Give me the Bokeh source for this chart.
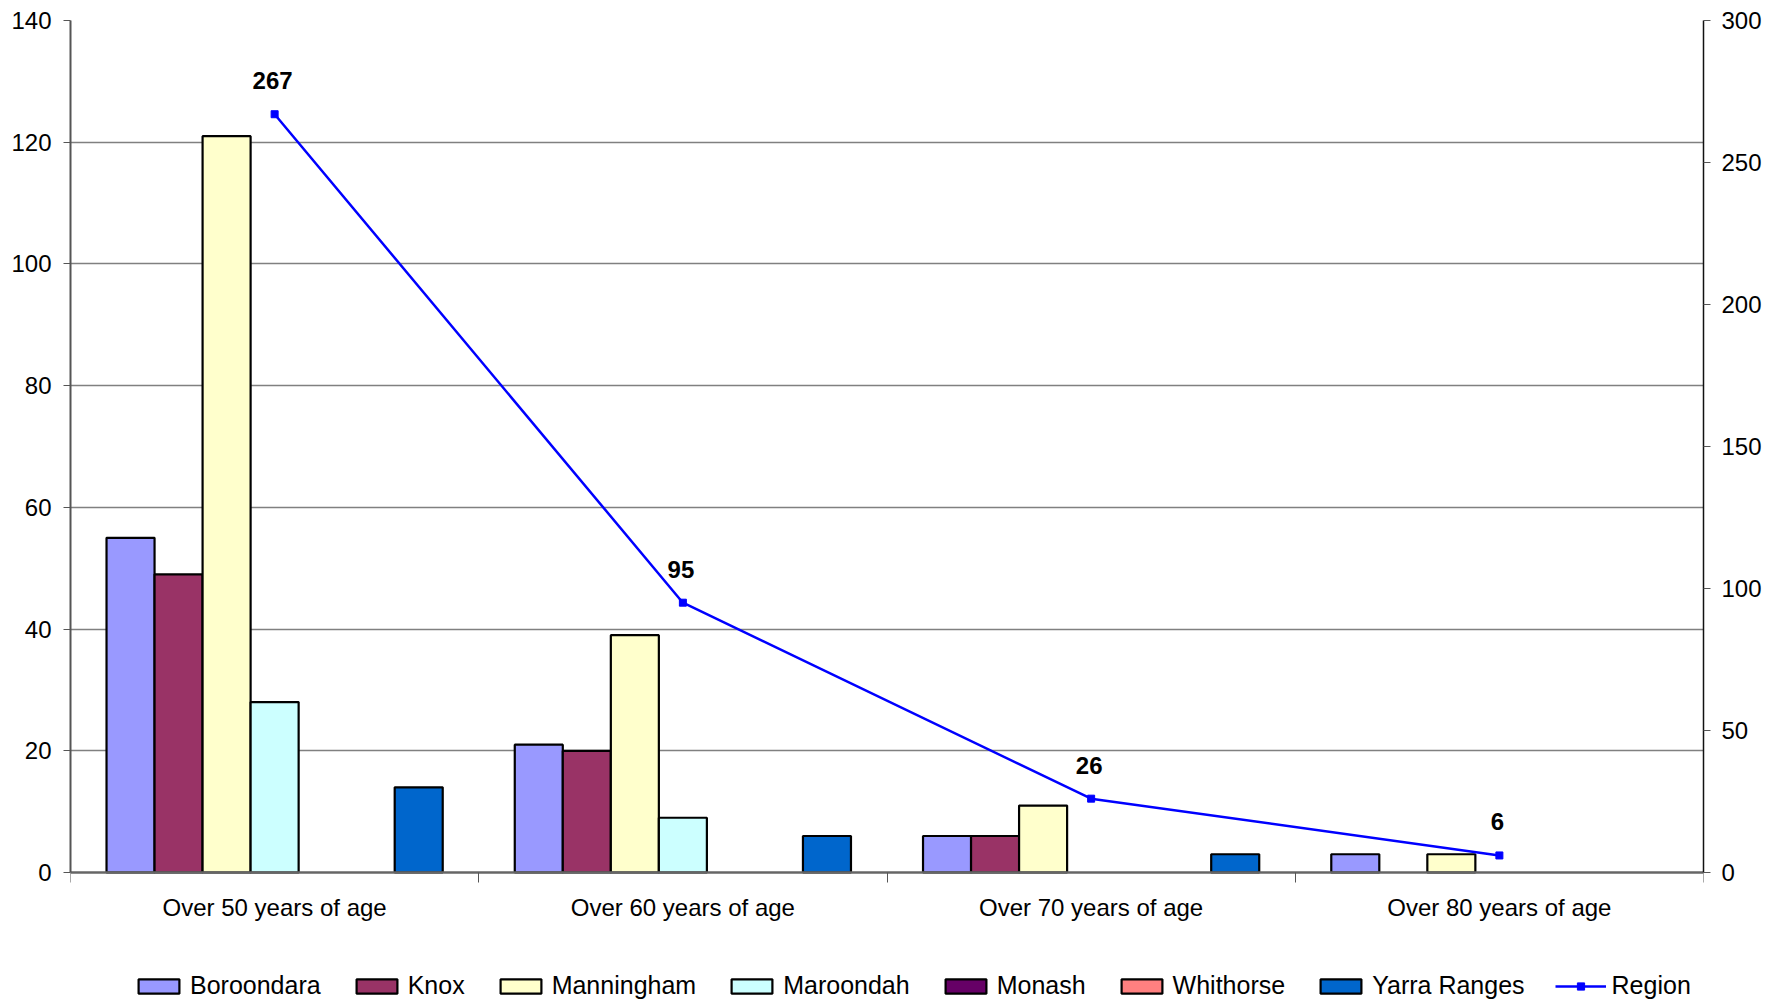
from bokeh.plotting import figure
from bokeh.models import (ColumnDataSource, Range1d, LinearAxis, FixedTicker,
                          Legend, LegendItem, Grid, CDSView, BooleanFilter)
from bokeh.core.properties import value
from bokeh.embed import file_html
from bokeh.resources import INLINE

categories = ["Over 50 years of age", "Over 60 years of age",
              "Over 70 years of age", "Over 80 years of age"]
series_names = ["Boroondara", "Knox", "Manningham", "Maroondah",
                "Monash", "Whithorse", "Yarra Ranges"]
boroondara = [55, 21, 6, 3]
knox = [49, 20, 6, 0]
manningham = [121, 39, 11, 3]
maroondah = [28, 9, 0, 0]
monash = [0, 0, 0, 0]
whithorse = [0, 0, 0, 0]
yarra_ranges = [14, 6, 3, 0]
region = [267, 95, 26, 6]
left_ticks = [0, 20, 40, 60, 80, 100, 120, 140]
right_ticks = [0, 50, 100, 150, 200, 250, 300]

series_values = [boroondara, knox, manningham, maroondah, monash, whithorse, yarra_ranges]
colors = ["#9999FF", "#993366", "#FFFFCC", "#CCFFFF", "#660066", "#FF8080", "#0066CC"]

FONT = "Liberation Sans"

# layout in pixels
TOP, PLOT_H, BELOW = 20, 852, 128
LMAX, RMAX = left_ticks[-1], right_ticks[-1]
lmin = -BELOW * LMAX / PLOT_H
rmin = -BELOW * RMAX / PLOT_H

n = len(categories)
p = figure(width=1780, height=TOP + PLOT_H + BELOW, output_backend="svg", toolbar_location=None,
           x_range=Range1d(0, n), y_range=Range1d(lmin, LMAX), x_axis_type=None,
           y_axis_type=None, min_border_left=70, min_border_right=77,
           min_border_top=TOP, min_border_bottom=0)
p.outline_line_color = None
p.background_fill_color = "white"
p.extra_y_ranges = {"right": Range1d(rmin, RMAX)}
p.xgrid.visible = False

nb = len(series_names)
bw = 1.0 / (nb + 1.5)
centers = [i + 0.5 for i in range(n)]

g = Grid(dimension=1, ticker=FixedTicker(ticks=left_ticks[1:]))
g.grid_line_color = "#808080"
g.grid_line_width = 1.5
p.add_layout(g)

legend_items = []
for k, (name, vals, col) in enumerate(zip(series_names, series_values, colors)):
    off = (k - (nb - 1) / 2) * bw
    src = ColumnDataSource(dict(x=[c + off for c in centers], top=vals))
    has_bars = any(v > 0 for v in vals)
    kw = {}
    if has_bars:
        kw["view"] = CDSView(filter=BooleanFilter([v > 0 for v in vals]))
    r = p.vbar(x="x", top="top", width=bw, bottom=0, source=src,
               fill_color=col, line_color="black", line_width=2.2, **kw)
    if not has_bars:
        r.visible = False
    legend_items.append(LegendItem(label=name, renderers=[r]))

lsrc = ColumnDataSource(dict(x=centers, y=region, lbl=[str(v) for v in region]))
lr = p.line(x="x", y="y", source=lsrc, y_range_name="right", line_color="#0000FF", line_width=2.5)
sr = p.scatter(x="x", y="y", source=lsrc, y_range_name="right", marker="square",
               size=7, fill_color="#0000FF", line_color="#0000FF")
legend_items.append(LegendItem(label="Region", renderers=[lr, sr]))

p.text(x="x", y="y", text="lbl", source=lsrc, y_range_name="right",
       y_offset=-25, x_offset=-2, text_align="center", text_baseline="bottom",
       text_font=value(FONT), text_font_style="bold", text_font_size="24px",
       text_color="black")

def style_axis(ax):
    ax.major_label_text_font = FONT
    ax.major_label_text_font_size = "24px"
    ax.major_label_text_color = "black"
    ax.minor_tick_line_color = None

la = LinearAxis(ticker=FixedTicker(ticks=left_ticks), bounds=(0, LMAX))
style_axis(la)
la.axis_line_color = "#555555"
la.axis_line_width = 2
la.major_tick_out = 7
la.major_tick_in = 0
la.major_tick_line_color = "#555555"
la.major_label_standoff = 12
p.add_layout(la, "left")

ra = LinearAxis(y_range_name="right", ticker=FixedTicker(ticks=right_ticks), bounds=(0, RMAX))
style_axis(ra)
ra.axis_line_color = "#111111"
ra.axis_line_width = 1.5
ra.major_tick_out = 7
ra.major_tick_in = 0
ra.major_tick_line_color = "#555555"
ra.major_label_standoff = 11
p.add_layout(ra, "right")

ba = LinearAxis(ticker=FixedTicker(ticks=centers, minor_ticks=list(range(n + 1))),
                fixed_location=0)
style_axis(ba)
ba.major_label_overrides = {c: cat for c, cat in zip(centers, categories)}
ba.axis_line_color = "#666666"
ba.axis_line_width = 2.5
ba.major_tick_line_color = None
ba.minor_tick_out = 10
ba.minor_tick_in = 0
ba.minor_tick_line_color = "#555555"
ba.minor_tick_line_width = 1
ba.major_label_standoff = 11
p.add_layout(ba, "below")

legend = Legend(items=legend_items, orientation="horizontal", location=(63, 0))
legend.label_text_font = FONT
legend.label_text_font_size = "25px"
legend.label_text_color = "black"
legend.glyph_width = 51
legend.glyph_height = 18
legend.label_standoff = 6
legend.label_height = 22
legend.spacing = 30
legend.padding = 0
legend.margin = 0
legend.border_line_color = None
legend.background_fill_alpha = 0
p.add_layout(legend, "center")

open("out.html", "w").write(file_html(p, INLINE))
